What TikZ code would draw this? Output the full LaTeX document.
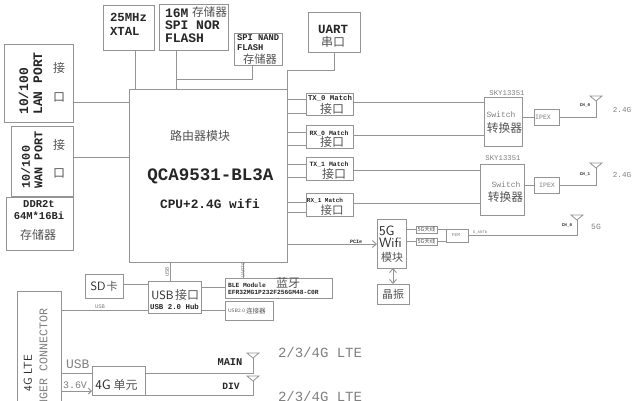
\documentclass[tikz,border=0pt]{standalone}
\usepackage{fontspec}
\setmainfont{Liberation Sans}
\setmonofont{Liberation Mono}
\newfontfamily\cjk{Noto Sans CJK SC}
\usetikzlibrary{arrows.meta,calc}
\definecolor{ln}{gray}{0.58}
\definecolor{tx}{gray}{0.15}
\definecolor{tl}{gray}{0.5}
\definecolor{tc}{gray}{0.33}
\tikzset{
  boxn/.style={draw=ln,line width=0.9pt,inner sep=0pt,outer sep=0pt},
  wire/.style={draw=ln,line width=0.9pt},
  lbl/.style={inner sep=0pt,outer sep=0pt,text=tx,align=left},
  lite/.style={lbl,text=tl},
  han/.style={lbl,text=tc},
  ant/.style={draw=ln,line width=0.8pt,line join=miter}
}
\newcommand{\fm}[2]{\fontsize{#1}{#2}\selectfont\ttfamily\bfseries}
\newcommand{\fr}[1]{\fontsize{#1}{#1}\selectfont\ttfamily}
\newcommand{\fs}[1]{\fontsize{#1}{#1}\selectfont\sffamily}
\newcommand{\fc}[1]{\fontsize{#1}{#1}\selectfont\cjk}
% name x1 y1 x2 y2
\newcommand{\bx}[5]{\pgfmathsetmacro\bw{#4-#2}\pgfmathsetmacro\bh{#5-#3}\pgfmathsetmacro\bcx{(#2+#4)/2}\pgfmathsetmacro\bcy{(#3+#5)/2}
  \node[boxn,minimum width=\bw pt,minimum height=\bh pt] (#1) at (\bcx,\bcy) {};}
% name, x, y: antenna with its feed point at the tip
\newcommand{\antn}[3]{\coordinate (#1) at (#2,#3);
  \draw[ant] ($(#1)+(-6,-5)$) -- ($(#1)+(6,-5)$) -- (#1) -- cycle;}
\begin{document}
\begin{tikzpicture}[x=1pt,y=-1pt]
\useasboundingbox (0,0) rectangle (635,400);
\clip (0,0) rectangle (635,400);
\fill[white] (0,0) rectangle (635,400);
% boxes
\bx{lan}{4}{44}{73}{122}
\bx{wan}{11}{126}{73}{196}
\bx{ddr}{6}{197}{73}{250}
\bx{xtal}{103}{5}{154}{50}
\bx{nor}{159}{4}{228}{50}
\bx{nand}{234}{33}{282}{65}
\bx{uart}{308}{12}{360}{52}
\bx{main}{129}{89}{287}{262}
\bx{txa}{306}{93}{353}{115}
\bx{rxa}{306}{125}{353}{148}
\bx{txb}{306}{157}{353}{180}
\bx{rxb}{306}{193}{353}{216}
\bx{swa}{484}{97}{522}{146}
\bx{swb}{480}{164}{524}{215}
\bx{ipa}{534}{109}{559}{125}
\bx{ipb}{534}{177}{559}{193}
\bx{wifi}{377}{219}{406}{268}
\bx{xo}{377}{284}{409}{304}
\bx{anta}{416}{226}{437}{233}
\bx{antb}{416}{238}{437}{245}
\bx{fem}{446}{229}{468}{242}
\bx{hub}{148}{281}{201}{313}
\bx{sd}{85}{274}{123}{298}
\bx{ble}{225}{278}{332}{298}
\bx{usbc}{225}{301}{273}{320}
\bx{conn}{17}{291}{61}{410}
\bx{unit}{92}{366}{145}{395}
% antennas
\antn{aa}{596}{101}
\antn{ab}{596}{168}
\antn{ac}{577}{220}
\antn{ad}{253}{358}
\antn{ae}{253}{381}
% connectors
\draw[wire] (lan.east |- 0,102) -- (main.west |- 0,102);
\draw[wire] (wan.east |- 0,157) -- (main.west |- 0,157);
\draw[wire] (xtal.south -| 135,0) -- (main.north -| 135,0);
\draw[wire] (nor.south -| 176,0) -- (main.north -| 176,0);
\draw[wire] (nand.south -| 252,0) |- (176,79);
\draw[wire] (main.north east) -- ++(0,-19) -| (uart.south);
\foreach \n/\a/\b in {txa/99/113,rxa/132/145,txb/164/177,rxb/202/212}{
  \draw[wire] (main.east |- 0,\a) -- (\n.west |- 0,\a);
  \draw[wire] (main.east |- 0,\b) -- (\n.west |- 0,\b);
}
\draw[wire] (txa.east |- 0,102) -- (swa.west |- 0,102);
\draw[wire] (rxa.east |- 0,135) -- (swa.west |- 0,135);
\draw[wire] (txb.east |- 0,170) -- (swb.west |- 0,170);
\draw[wire] (rxb.east |- 0,203) -- (swb.west |- 0,203);
\draw[wire] (swa.east |- ipa.west) -- (ipa.west);
\draw[wire] (swb.east |- ipb.west) -- (ipb.west);
\draw[wire] (ipa.east) -| (aa);
\draw[wire] (ipb.east) -| (ab);
\draw[wire,-{Straight Barb[length=4pt,width=7pt]}] (main.east |- 0,244) -- (wifi.west |- 0,244);
\draw[wire,{Straight Barb[length=4pt,width=7pt]}-{Straight Barb[length=4pt,width=7pt]}] (wifi.south -| 393,0) -- (xo.north -| 393,0);
\draw[wire] (wifi.east |- anta.west) -- (anta.west);
\draw[wire] (wifi.east |- antb.west) -- (antb.west);
\draw[wire] (anta.east) -- (fem.west |- anta.east);
\draw[wire] (antb.east) -- (fem.west |- antb.east);
\draw[wire] (fem.east) -| (ac);
\draw[wire] (main.south -| 170,0) -- (hub.north -| 170,0);
\draw[wire] (main.south -| 243,0) -- (ble.north -| 243,0);
\draw[wire] (sd.east |- 0,284) -- (hub.west |- 0,284);
\draw[wire] (hub.east |- 0,287) -- (ble.west |- 0,287);
\draw[wire] (hub.east |- 0,310) -- (usbc.west |- 0,310);
\draw[wire] (conn.east |- 0,310) -- (hub.west |- 0,310);
\draw[wire] (conn.east |- 0,373) -- (unit.west |- 0,373);
\draw[wire,-{Straight Barb[length=3pt,width=6pt]}] (conn.east |- 0,391) -- (unit.west |- 0,391);
\draw[wire] (unit.east |- 0,373) -| (ad);
\draw[wire] (unit.east |- 0,395) -| (ae);
% left labels
\node[lbl,rotate=90,anchor=center,font=\fm{13}{14}] (t1) at (30.5,83.5) {10/100\\LAN PORT};
\node[han,font=\fc{12}] (t2) at (59,68) {接};
\node[han,font=\fc{12}] (t3) at (59,97) {口};
\node[lbl,rotate=90,anchor=center,font=\fm{11.8}{12.5}] (t4) at (32,160) {10/100\\WAN PORT};
\node[han,font=\fc{12}] (t5) at (59,145) {接};
\node[han,font=\fc{12}] (t6) at (59,173) {口};
\node[lbl,font=\fm{10.5}{12},align=center] (t7) at (39,210) {DDR2t\\64M*16Bi};
\node[han,font=\fc{12}] (t8) at (38,235) {存储器};
% top labels
\node[lbl,anchor=north west,font=\fm{12.3}{14}] (t9) at (110,13) {25MHz\\XTAL};
\node[lbl,anchor=west,font=\fm{13}{13}] (t10) at (165,13) {16M};
\node[han,anchor=west,font=\fc{11.7}] (t11) at (192,12) {存储器};
\node[lbl,anchor=north west,font=\fm{13}{13}] (t12) at (165,21) {SPI NOR\\FLASH};
\node[lbl,anchor=north west,font=\fm{8.8}{10}] (t13) at (237,35) {SPI NAND\\FLASH};
\node[han,font=\fc{11.3}] (t14) at (260,59) {存储器};
\node[lbl,font=\fm{12.5}{13}] (t15) at (333,29) {UART};
\node[han,font=\fc{12}] (t16) at (333,42) {串口};
% main labels
\node[han,font=\fc{12}] (t17) at (200,136) {路由器模块};
\node[lbl,font=\fm{17.5}{18}] (t18) at (210.5,176) {QCA9531-BL3A};
\node[lbl,font=\fm{12.8}{13}] (t19) at (210,204) {CPU+2.4G wifi};
% match labels
\node[lbl,font=\fm{7.3}{8}] (m1) at (330,98) {TX\_0 Match};
\node[lbl,font=\fm{6.5}{7}] (m2) at (329,133) {RX\_0 Match};
\node[lbl,font=\fm{6.5}{7}] (m3) at (329,164) {TX\_1 Match};
\node[lbl,font=\fm{6}{7}] (m4) at (325,201) {RX\_1 Match};
\node[han,font=\fc{12}] (t20) at (332,109) {接口};
\node[han,font=\fc{12}] (t21) at (332,142) {接口};
\node[han,font=\fc{12}] (t22) at (334,174) {接口};
\node[han,font=\fc{11.5}] (t23) at (332,210) {接口};
% switches
\node[lite,font=\fr{7.3}] (t24) at (507,93) {SKY13351};
\node[lite,font=\fr{7.3}] (t25) at (503,158) {SKY13351};
\node[lite,font=\fr{8}] (t26) at (501,115) {Switch};
\node[han,font=\fc{11.7}] (t27) at (504.5,128) {转换器};
\node[lite,font=\fr{8}] (t28) at (506,185) {Switch};
\node[han,font=\fc{11.7}] (t29) at (505.5,197) {转换器};
\node[lite,font=\fr{6.6}] (t30) at (543,117) {IPEX};
\node[lite,font=\fr{6.6}] (t31) at (547,185) {IPEX};
\node[lbl,font=\fm{4.2}{5}] (t32) at (585,105) {CH\_0};
\node[lbl,font=\fm{4.2}{5}] (t33) at (585,174) {CH\_1};
\node[lbl,font=\fm{4.2}{5}] (t34) at (567,225) {CH\_0};
\node[lite,font=\fr{7.6}] (t35) at (622,110) {2.4G};
\node[lite,font=\fr{7.6}] (t36) at (622,175) {2.4G};
\node[lite,font=\fr{8}] (t37) at (596,227) {5G};
% 5G
\node[lbl,font=\fs{13.5},anchor=west] (t38) at (379,231) {5G};
\node[lbl,font=\fs{13.5},anchor=west] (t38b) at (379,243) {Wifi};
\node[han,font=\fc{11}] (t39) at (392,257) {模块};
\node[han,font=\fc{11}] (t40) at (393,294) {晶振};
\node[han,font=\fc{5.5}] (t41) at (426.5,229.5) {5G天线};
\node[han,font=\fc{5.5}] (t42) at (426.5,241.5) {5G天线};
\node[lite,font=\fr{4.5}] (t43) at (456,235.5) {FEM};
\node[lite,font=\fr{4}] (t44) at (480,232) {G\_ANTb};
\node[lbl,font=\fm{5}{5}] (t45) at (356,242) {PCIe};
% lower labels
\node[lbl,font=\fs{12}] (t46) at (98,286) {SD};
\node[han,font=\fc{11}] (t47) at (112,286) {卡};
\node[lbl,font=\fs{12}] (t48) at (162.5,295) {USB};
\node[han,font=\fc{12}] (t49) at (187,295) {接口};
\node[lbl,font=\fm{7.4}{8}] (t50) at (174.5,307) {USB 2.0 Hub};
\node[lbl,anchor=west,font=\fm{6.3}{7}] (t51) at (228,285) {BLE Module};
\node[han,font=\fc{12}] (t52) at (288,283) {蓝牙};
\node[lbl,anchor=west,font=\fm{6.3}{7}] (t53) at (228,292) {EFR32MG1P232F256GM48-C0R};
\node[han,anchor=west,font=\fs{5}] (t54) at (228,311) {USB2.0};
\node[han,anchor=west,font=\fc{6.5}] (t55) at (246,311) {连接器};
\node[lite,font=\fr{5.5},rotate=90] (t56) at (167,272) {USB};
\node[lite,font=\fr{5},rotate=90] (t57) at (243,270) {UART0};
\node[lite,font=\fr{5.5}] (t58) at (100,307) {USB};
\node[lbl,rotate=90,anchor=east,font=\fs{11.5}] (t59) at (28,355) {4G LTE};
\node[lite,rotate=90,anchor=east,font=\fr{11.7}] (t60) at (43.5,308) {FINGER CONNECTOR};
\node[lite,anchor=west,font=\fr{13}] (t61) at (66,364) {USB};
\node[lite,anchor=west,font=\fr{10}] (t62) at (63,385) {3.6V};
\node[lbl,font=\fs{13.5}] (t63) at (103,385) {4G};
\node[han,font=\fc{12}] (t64) at (125.5,385) {单元};
\node[lbl,font=\fm{10.4}{11}] (t65) at (230,362) {MAIN};
\node[lbl,font=\fm{9.6}{10}] (t66) at (231,386) {DIV};
\node[lite,anchor=west,font=\fr{14}] (t67) at (278,352) {2/3/4G LTE};
\node[lite,anchor=west,font=\fr{14}] (t68) at (278,396) {2/3/4G LTE};
\end{tikzpicture}
\end{document}
